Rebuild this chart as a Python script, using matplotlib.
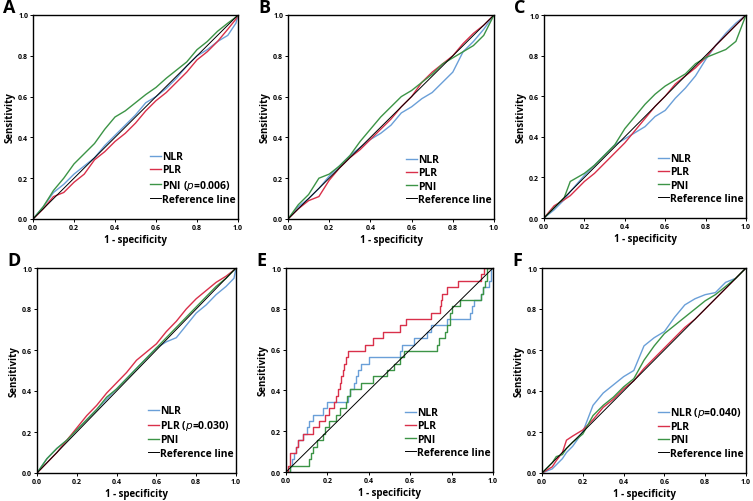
import matplotlib.pyplot as plt

plt.rcParams['font.family'] = ['Open Sans', 'DejaVu Sans']

BLUE = '#6a9fd8'
RED = '#d9304a'
GREEN = '#3c9446'

# panel A
a_x = [0, 0.05, 0.1, 0.15, 0.2, 0.25, 0.3, 0.35, 0.4, 0.45, 0.5, 0.55, 0.6, 0.65, 0.7, 0.75, 0.8, 0.85, 0.9, 0.95, 0.99, 1.0]
a_nlr = [0, 0.06, 0.13, 0.17, 0.22, 0.26, 0.30, 0.36, 0.41, 0.46, 0.51, 0.57, 0.60, 0.64, 0.69, 0.75, 0.80, 0.83, 0.87, 0.90, 0.96, 1.0]
a_plr = [0, 0.05, 0.11, 0.13, 0.18, 0.22, 0.29, 0.33, 0.38, 0.42, 0.47, 0.53, 0.58, 0.62, 0.67, 0.72, 0.78, 0.82, 0.87, 0.93, 0.98, 1.0]
a_pni = [0, 0.06, 0.14, 0.20, 0.27, 0.32, 0.37, 0.44, 0.50, 0.53, 0.57, 0.61, 0.645, 0.69, 0.73, 0.77, 0.83, 0.87, 0.92, 0.96, 0.99, 1.0]

# panel B
b_x = [0, 0.05, 0.1, 0.15, 0.2, 0.25, 0.3, 0.35, 0.4, 0.45, 0.5, 0.55, 0.6, 0.65, 0.7, 0.75, 0.8, 0.85, 0.9, 0.95, 1.0]
b_nlr = [0, 0.06, 0.10, 0.15, 0.21, 0.26, 0.31, 0.35, 0.39, 0.42, 0.46, 0.52, 0.55, 0.59, 0.62, 0.67, 0.72, 0.82, 0.87, 0.93, 1.0]
b_plr = [0, 0.05, 0.09, 0.11, 0.19, 0.25, 0.30, 0.34, 0.39, 0.44, 0.49, 0.55, 0.60, 0.67, 0.72, 0.76, 0.80, 0.86, 0.91, 0.95, 1.0]
b_pni = [0, 0.07, 0.12, 0.20, 0.22, 0.26, 0.31, 0.38, 0.44, 0.50, 0.55, 0.60, 0.63, 0.67, 0.71, 0.76, 0.79, 0.82, 0.85, 0.90, 1.0]

# panel C
c_x = [0, 0.05, 0.1, 0.13, 0.2, 0.25, 0.3, 0.35, 0.4, 0.45, 0.5, 0.55, 0.6, 0.65, 0.7, 0.75, 0.8, 0.85, 0.9, 0.95, 1.0]
c_nlr = [0, 0.04, 0.09, 0.13, 0.21, 0.26, 0.31, 0.36, 0.39, 0.42, 0.45, 0.50, 0.53, 0.59, 0.64, 0.70, 0.78, 0.85, 0.91, 0.96, 1.0]
c_plr = [0, 0.06, 0.09, 0.11, 0.18, 0.22, 0.27, 0.32, 0.37, 0.43, 0.49, 0.55, 0.60, 0.66, 0.70, 0.74, 0.79, 0.85, 0.90, 0.95, 1.0]
c_pni = [0, 0.05, 0.10, 0.18, 0.22, 0.26, 0.31, 0.36, 0.44, 0.50, 0.56, 0.61, 0.65, 0.68, 0.71, 0.76, 0.79, 0.81, 0.83, 0.87, 1.0]

# panel D
d_x = [0, 0.05, 0.1, 0.15, 0.2, 0.25, 0.3, 0.35, 0.4, 0.45, 0.5, 0.55, 0.6, 0.65, 0.7, 0.75, 0.8, 0.85, 0.9, 0.95, 0.99, 1.0]
d_nlr = [0, 0.07, 0.12, 0.16, 0.21, 0.26, 0.31, 0.36, 0.41, 0.46, 0.51, 0.56, 0.61, 0.64, 0.66, 0.72, 0.78, 0.82, 0.87, 0.91, 0.95, 1.0]
d_plr = [0, 0.05, 0.10, 0.16, 0.22, 0.28, 0.33, 0.39, 0.44, 0.49, 0.55, 0.59, 0.63, 0.69, 0.74, 0.80, 0.85, 0.89, 0.93, 0.96, 0.99, 1.0]
d_pni = [0, 0.07, 0.12, 0.16, 0.21, 0.26, 0.31, 0.37, 0.41, 0.46, 0.51, 0.56, 0.61, 0.66, 0.71, 0.76, 0.81, 0.86, 0.91, 0.95, 0.99, 1.0]

# panel E (step curves: x where sensitivity jumps, new sensitivity)
e_nlr_x = [0, 0.02, 0.03, 0.04, 0.05, 0.06, 0.08, 0.10, 0.11, 0.13, 0.18, 0.20, 0.30, 0.31, 0.33, 0.34, 0.35, 0.36, 0.40, 0.55, 0.56, 0.62, 0.68, 0.70, 0.78, 0.89, 0.90, 0.91, 0.94, 0.95, 0.98, 0.99, 1.0]
e_nlr_y = [0, 0.031, 0.063, 0.094, 0.125, 0.156, 0.188, 0.219, 0.25, 0.281, 0.313, 0.344, 0.375, 0.406, 0.438, 0.469, 0.5, 0.531, 0.563, 0.594, 0.625, 0.656, 0.688, 0.719, 0.75, 0.781, 0.813, 0.844, 0.875, 0.906, 0.938, 1.0, 1.0]
e_plr_x = [0, 0.01, 0.02, 0.05, 0.06, 0.08, 0.13, 0.16, 0.19, 0.21, 0.23, 0.24, 0.25, 0.26, 0.265, 0.275, 0.28, 0.29, 0.30, 0.38, 0.42, 0.47, 0.55, 0.58, 0.70, 0.745, 0.75, 0.755, 0.78, 0.83, 0.94, 0.955, 0.963, 1.0]
e_plr_y = [0, 0.031, 0.094, 0.125, 0.156, 0.188, 0.219, 0.25, 0.281, 0.313, 0.344, 0.375, 0.406, 0.438, 0.469, 0.5, 0.531, 0.563, 0.594, 0.625, 0.656, 0.688, 0.719, 0.75, 0.781, 0.813, 0.844, 0.875, 0.906, 0.938, 0.969, 1.0, 1.0, 1.0]
e_pni_x = [0, 0.02, 0.11, 0.12, 0.13, 0.15, 0.18, 0.19, 0.21, 0.24, 0.26, 0.29, 0.295, 0.31, 0.36, 0.42, 0.49, 0.52, 0.55, 0.57, 0.73, 0.74, 0.77, 0.78, 0.79, 0.80, 0.84, 0.94, 0.95, 0.96, 0.97, 1.0]
e_pni_y = [0, 0.031, 0.063, 0.094, 0.125, 0.156, 0.188, 0.219, 0.25, 0.281, 0.313, 0.344, 0.375, 0.406, 0.438, 0.469, 0.5, 0.531, 0.563, 0.594, 0.625, 0.656, 0.688, 0.719, 0.781, 0.813, 0.844, 0.875, 0.906, 0.938, 1.0, 1.0]

# panel F
f_x = [0, 0.05, 0.07, 0.1, 0.12, 0.15, 0.2, 0.25, 0.3, 0.35, 0.4, 0.45, 0.5, 0.55, 0.6, 0.65, 0.7, 0.75, 0.8, 0.85, 0.9, 0.95, 1.0]
f_nlr = [0, 0.02, 0.04, 0.07, 0.10, 0.13, 0.20, 0.33, 0.39, 0.43, 0.47, 0.50, 0.62, 0.66, 0.69, 0.76, 0.82, 0.85, 0.87, 0.88, 0.93, 0.95, 1.0]
f_plr = [0, 0.03, 0.06, 0.10, 0.16, 0.18, 0.21, 0.26, 0.32, 0.36, 0.41, 0.45, 0.51, 0.56, 0.61, 0.66, 0.71, 0.75, 0.80, 0.85, 0.90, 0.95, 1.0]
f_pni = [0, 0.05, 0.08, 0.09, 0.12, 0.15, 0.19, 0.28, 0.33, 0.37, 0.42, 0.46, 0.55, 0.62, 0.68, 0.72, 0.76, 0.80, 0.84, 0.87, 0.91, 0.95, 1.0]

ticks = [0.0, 0.2, 0.4, 0.6, 0.8, 1.0]
tick_labels = ['0.0', '0.2', '0.4', '0.6', '0.8', '1.0']

fig = plt.figure(figsize=(7.53, 5.02), dpi=100)
W, H = 753, 502


def panel(letter, box, curves, labels, steps=False):
    left, right, top, bottom = box
    ax = fig.add_axes([left / W, 1 - bottom / H, (right - left) / W, (bottom - top) / H])
    colors = [BLUE, RED, GREEN]
    for (x, y), lab, c in zip(curves, labels, colors):
        if steps:
            ax.plot(x, y, color=c, lw=1.0, drawstyle='steps-post', label=lab)
        else:
            ax.plot(x, y, color=c, lw=1.0, label=lab)
    ax.plot([0, 1], [0, 1], color='black', lw=0.7, label='Reference line')
    ax.set_xlim(0, 1)
    ax.set_ylim(0, 1)
    ax.set_xticks(ticks)
    ax.set_xticklabels(tick_labels)
    ax.set_yticks(ticks)
    ax.set_yticklabels(tick_labels)
    ax.tick_params(direction='out', length=2, width=0.7, labelsize=5, pad=1.5)
    for t in ax.get_xticklabels() + ax.get_yticklabels():
        t.set_fontweight('bold')
    for s in ax.spines.values():
        s.set_linewidth(1.0)
    ax.set_xlabel('1 - specificity', fontsize=7, fontweight='bold', labelpad=2)
    ax.set_ylabel('Sensitivity', fontsize=7, fontweight='bold', labelpad=2)
    leg = ax.legend(loc='lower right', bbox_to_anchor=(1.02, 0.04), frameon=False,
                    handlelength=1.0, handletextpad=0.15, labelspacing=0.2,
                    borderpad=0.1, prop={'size': 7.5, 'weight': 'bold'})
    fig.text((left - 30) / W, 1 - (top - 8) / H, letter, fontsize=13, fontweight='bold',
             ha='left', va='center')
    return ax


pA = 'PNI ($\\mathit{p}$=0.006)'
pD = 'PLR ($\\mathit{p}$=0.030)'
pF = 'NLR ($\\mathit{p}$=0.040)'

panel('A', (33, 238, 16, 220), [(a_x, a_nlr), (a_x, a_plr), (a_x, a_pni)], ['NLR', 'PLR', pA])
panel('B', (288, 494, 16, 220), [(b_x, b_nlr), (b_x, b_plr), (b_x, b_pni)], ['NLR', 'PLR', 'PNI'])
panel('C', (544, 746, 16, 219), [(c_x, c_nlr), (c_x, c_plr), (c_x, c_pni)], ['NLR', 'PLR', 'PNI'])
panel('D', (37, 236, 269, 474), [(d_x, d_nlr), (d_x, d_plr), (d_x, d_pni)], ['NLR', pD, 'PNI'])
panel('E', (286, 493, 269, 473), [(e_nlr_x, e_nlr_y), (e_plr_x, e_plr_y), (e_pni_x, e_pni_y)],
      ['NLR', 'PLR', 'PNI'], steps=True)
panel('F', (542, 746, 269, 474), [(f_x, f_nlr), (f_x, f_plr), (f_x, f_pni)], [pF, 'PLR', 'PNI'])

fig.savefig('out.png', dpi=100)
